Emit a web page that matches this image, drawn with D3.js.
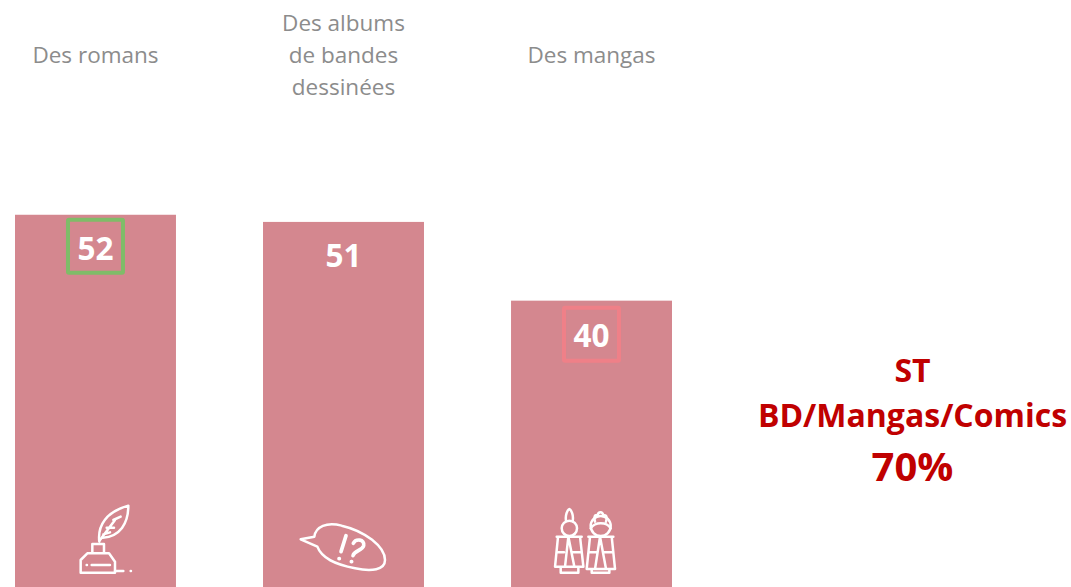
<!DOCTYPE html>
<html>
<head>
<meta charset="utf-8">
<script src="https://cdn.jsdelivr.net/npm/d3@7"></script>
<style>
html, body { margin: 0; padding: 0; background: #fff; overflow: hidden; }
text { font-family: "Open Sans", sans-serif; }
</style>
</head>
<body>
<svg id="chart" width="1071" height="587"></svg>
<script>
var categories = ["romans", "albums", "mangas"];
var values = [52, 51, 40];
var labels = [["Des romans"], ["Des albums", "de bandes", "dessinées"], ["Des mangas"]];
var boxColors = ["#7fbc68", null, "#ef8088"];
var totalLines = ["ST", "BD/Mangas/Comics"];
var totalValue = "70%";

var width = 1071, height = 587;
var barColor = "#d4878f", red = "#c00000";

var svg = d3.select("#chart");

var x = d3.scaleBand().domain(categories).range([15, 672]).paddingInner(0.351).paddingOuter(0);
var y = d3.scaleLinear().domain([0, 82]).range([height, 0]);

var bars = svg.selectAll("g.bar")
    .data(categories)
    .enter().append("g")
    .attr("class", "bar");

bars.append("rect")
    .attr("x", function (d) { return x(d); })
    .attr("y", function (d, i) { return y(values[i]); })
    .attr("width", x.bandwidth())
    .attr("height", function (d, i) { return height - y(values[i]); })
    .attr("fill", barColor);

// outlined value, only on two of the bars
bars.filter(function (d, i) { return !!boxColors[i]; })
    .append("rect")
    .attr("x", function (d) { return x(d) + x.bandwidth() / 2 - 27.5; })
    .attr("y", function (d) {
        var i = categories.indexOf(d);
        return y(values[i]) + (values[i] < 50 ? 7 : 5);
    })
    .attr("width", 55)
    .attr("height", 53)
    .attr("rx", 1)
    .attr("fill", "none")
    .attr("stroke", function (d) { return boxColors[categories.indexOf(d)]; })
    .attr("stroke-width", 4);

bars.append("text")
    .attr("x", function (d) { return x(d) + x.bandwidth() / 2; })
    .attr("y", function (d, i) { return y(values[i]) + (values[i] < 50 ? 46 : 45); })
    .attr("text-anchor", "middle")
    .attr("font-size", 31.5)
    .attr("font-weight", 700)
    .attr("fill", "#fff")
    .text(function (d, i) { return values[i]; });

bars.each(function (d, i) {
    var lines = labels[i];
    var top = 55 - (lines.length - 1) * 16;
    d3.select(this).selectAll("text.label")
        .data(lines)
        .enter().append("text")
        .attr("class", "label")
        .attr("x", x(d) + x.bandwidth() / 2)
        .attr("y", function (l, j) { return top + j * 32 + 8; })
        .attr("text-anchor", "middle")
        .attr("font-size", 22.5)
        .attr("fill", "#8c8c8c")
        .text(function (l) { return l; });
});

// icons, paths are in 3x units measured from a corner near the icon
function icon(cat, dx, dy) {
    return svg.append("g")
        .attr("transform", "translate(" + (x(cat) + dx) + "," + dy + ") scale(0.3333)")
        .attr("fill", "none")
        .attr("stroke", "#fff")
        .attr("stroke-width", 7.5)
        .attr("stroke-linejoin", "round")
        .attr("stroke-linecap", "round");
}

var pen = icon("romans", 45, 495);
pen.append("path").attr("d", "M118 140C112 90 140 50 205 32C205 85 180 125 128 128");
pen.append("path").attr("d", "M120 135L165 75M140 98L162 98M160 75L182 65M130 118L150 112");
pen.append("path").attr("d", "M97 175V147H132V175M97 175H82L62 195V233H165V200L147 175H97");
pen.append("path").attr("d", "M95 210H150M165 228H190");
pen.append("path").attr("d", "M80 210H81M212 228H213");

var bubble = icon("albums", 22, 505);
bubble.append("path").attr("d", "M47 103L88 95C92 65 125 50 170 62C240 78 300 125 300 165C300 195 260 200 210 190C150 178 110 160 97 125Z");
bubble.append("path").attr("d", "M183 92L168 140M162 161H163").attr("stroke-width", 11);
bubble.append("path").attr("d", "M205 115C212 100 240 102 236 122C232 138 208 135 204 152M199 170H200").attr("stroke-width", 11);

var dolls = icon("mangas", 29, 495);
// left doll
dolls.append("circle").attr("cx", 88).attr("cy", 100).attr("r", 23);
dolls.append("path").attr("d", "M78 78C75 60 82 45 88 42C94 45 101 60 98 78");
dolls.append("path").attr("d", "M50 125H125M54 125L45 215H130L120 125M85 125L75 215M85 125L103 215M50 172H72M97 172H125M62 215V233H115V215");
// right doll
dolls.append("circle").attr("cx", 182).attr("cy", 93).attr("r", 30);
dolls.append("path").attr("d", "M152 100C165 80 200 80 212 100M165 80C160 65 165 58 172 62C175 48 188 48 190 62C198 58 203 65 198 80");
dolls.append("path").attr("d", "M145 125H220M150 125L140 222H225L215 125M180 125L165 222M180 125L198 222M145 172H170M190 172H220M155 222V233H208V222");

// total on the right
var total = svg.append("g").attr("text-anchor", "middle").attr("fill", red).attr("font-weight", 700);
total.selectAll("text.total")
    .data(totalLines)
    .enter().append("text")
    .attr("class", "total")
    .attr("x", 912.5)
    .attr("y", function (d, i) { return 382 + i * 45; })
    .attr("font-size", 32)
    .text(function (d) { return d; });
total.append("text")
    .attr("x", 912.5)
    .attr("y", 481)
    .attr("font-size", 40)
    .text(totalValue);
</script>
</body>
</html>
